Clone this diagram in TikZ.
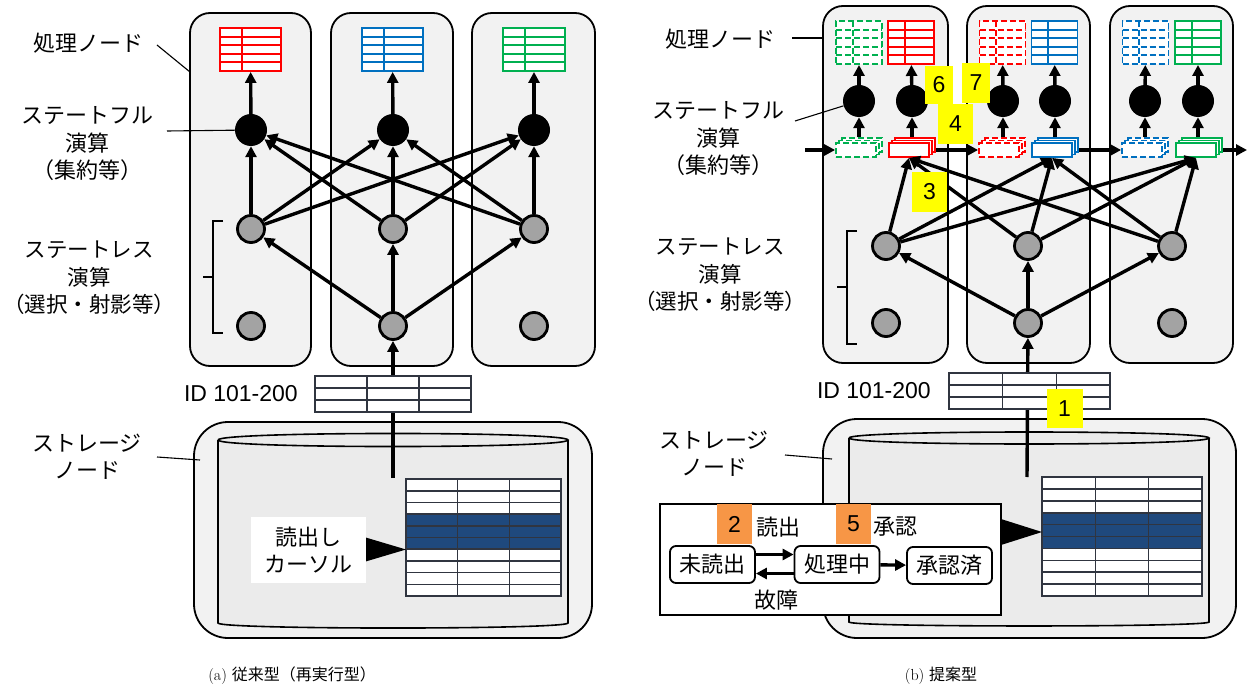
\documentclass[tikz,border=0pt]{standalone}
\usepackage{fontspec}
\newfontfamily\jpf{Noto Sans CJK JP}
\newfontfamily\arf{Liberation Sans}
\usetikzlibrary{arrows.meta,calc}

\definecolor{boxgray}{HTML}{F2F2F2}
\definecolor{tred}{HTML}{FF0000}
\definecolor{tblue}{HTML}{0070C0}
\definecolor{tgreen}{HTML}{00B050}
\definecolor{rowblue}{HTML}{1F497D}
\definecolor{lblyellow}{HTML}{FFFF00}
\definecolor{lblorange}{HTML}{F79646}
\definecolor{cylfill}{HTML}{EBEBEB}
\definecolor{opgray}{HTML}{A3A3A3}
\definecolor{gridgray}{HTML}{303540}

% three stacked copies of a small state buffer; the front one carries the name
\newcommand\stackbox[4]{%
  \node[stk=#3,#4] (#1b) at (#2+6,145) {};
  \node[stk=#3,#4] (#1m) at (#2+3,147.5) {};
  \node[stk=#3,#4] (#1) at (#2,150) {};}

\begin{document}
\begin{tikzpicture}[x=1pt,y=-1pt,
  arr/.style={line width=3.4pt,-{Triangle[length=11pt,width=11pt]}},
  lead/.style={line width=1.1pt},
  dsh/.style={dash pattern=on 6pt off 3pt},
  procbox/.style={draw, line width=1.8pt, fill=boxgray, rounded corners=20pt, inner sep=0pt},
  storebox/.style={draw, line width=1.8pt, fill=boxgray, rounded corners=34pt, inner sep=0pt},
  stful/.style={circle, fill=black, minimum size=32pt, inner sep=0pt},
  stless/.style={circle, draw, line width=2.8pt, fill=opgray, minimum size=27pt, inner sep=0pt},
  stk/.style={draw=#1, line width=1.8pt, fill=white, minimum width=40pt, minimum height=14pt, inner sep=0pt},
  jp/.style={font=\jpf\fontsize{22}{27.5}\selectfont, align=center, inner sep=0pt},
  idlbl/.style={font=\arf\fontsize{23}{23}\selectfont, inner sep=0pt},
  numlbl/.style={fill=#1, font=\arf\fontsize{23}{23}\selectfont, inner sep=0pt},
  statetab/.style 2 args={draw=#1, #2, line width=1.9pt, fill=white, minimum height=43pt, inner sep=0pt,
    path picture={
      \foreach \k in {1,...,4}
        \draw[#1,#2,line width=1.9pt]
          ($(path picture bounding box.north west)!\k/5!(path picture bounding box.south west)$) --
          ($(path picture bounding box.north east)!\k/5!(path picture bounding box.south east)$);
      \draw[#1,#2,line width=1.9pt]
        ($(path picture bounding box.north west)!0.36!(path picture bounding box.north east)$) --
        ($(path picture bounding box.south west)!0.36!(path picture bounding box.south east)$);
    }},
  datatab/.style n args={3}{draw=gridgray, line width=1.6pt, fill=white, inner sep=0pt,
    path picture={
      \fill[rowblue]
        ($(path picture bounding box.north west)!#2/#1!(path picture bounding box.south west)$) rectangle
        ($(path picture bounding box.north east)!#3/#1!(path picture bounding box.south east)$);
      \foreach \k in {1,...,#1}
        \draw[gridgray,line width=1.6pt]
          ($(path picture bounding box.north west)!\k/#1!(path picture bounding box.south west)$) --
          ($(path picture bounding box.north east)!\k/#1!(path picture bounding box.south east)$);
      \foreach \c in {1,2}
        \draw[gridgray,line width=1.6pt]
          ($(path picture bounding box.north west)!\c/3!(path picture bounding box.north east)$) --
          ($(path picture bounding box.south west)!\c/3!(path picture bounding box.south east)$);
    }},
  ]
\useasboundingbox (0,0) rectangle (1248,687);

%% ================= (a) conventional: re-execution =================
% processing nodes
\node[procbox, minimum width=121pt, minimum height=353pt] (pA1) at (250.5,189.5) {};
\node[procbox, minimum width=122pt, minimum height=353pt] (pA2) at (392,189.5) {};
\node[procbox, minimum width=123pt, minimum height=353pt] (pA3) at (533.5,189.5) {};

% storage node
\node[storebox, minimum width=398pt, minimum height=216pt] (stA) at (393,530) {};
\path[fill=cylfill] (218,440) .. controls (218,431.3) and (568,431.3) .. (568,440)
  -- (568,623) .. controls (568,629.7) and (218,629.7) .. (218,623) -- cycle;
\draw[line width=1.6pt] (218,440) .. controls (218,431.3) and (568,431.3) .. (568,440)
  .. controls (568,448.7) and (218,448.7) .. (218,440);
\draw[line width=1.6pt] (218,440) -- (218,623) .. controls (218,629.7) and (568,629.7) .. (568,623) -- (568,440);

% operators
\node[stful] (sA1) at (251,130) {};
\node[stful] (sA2) at (393,130) {};
\node[stful] (sA3) at (534,130) {};
\node[stless] (uA1) at (251,229) {};
\node[stless] (uA2) at (393,229) {};
\node[stless] (uA3) at (534,229) {};
\node[stless] (lA1) at (251,326) {};
\node[stless] (lA2) at (393,326) {};
\node[stless] (lA3) at (534,326) {};

% operator state tables
\node[statetab={tred}{solid}, minimum width=61pt] (tA1) at (250.5,49.5) {};
\node[statetab={tblue}{solid}, minimum width=61pt] (tA2) at (392.5,49.5) {};
\node[statetab={tgreen}{solid}, minimum width=62pt] (tA3) at (534,49.5) {};

% data flow
\coordinate (curA) at (393,478);
\draw[arr] (curA) -- (lA2);
\foreach \j in {1,2,3} \draw[arr] (lA2) -- (uA\j);
\foreach \i in {1,2,3} \foreach \j in {1,2,3} \draw[arr] (uA\i) -- (sA\j);
\foreach \i in {1,2,3} \draw[arr] (sA\i) -- (tA\i);

% records being read
\node[datatab={3}{0}{0}, minimum width=156pt, minimum height=36pt] (idA) at (393,394) {};
\node[idlbl, anchor=east] (idlA) at (298,394) {ID 101-200};
\node[datatab={10}{3}{6}, minimum width=155pt, minimum height=117pt] (dA) at (483.5,537.5) {};
\fill (364,537) -- (406,549.5) -- (364,562) -- cycle;
\node[jp, fill=white, minimum width=115pt, minimum height=66pt] (cursA) at (308.5,550) {読出し\\カーソル};

% bracket for stateless operators
\draw[line width=1.6pt] (223,221) -- (213,221) -- (213,333) -- (223,333);
\draw[line width=1.6pt] (213,277) -- (203,277);

% side labels
\node[jp] (lpA) at (88,43) {処理ノード};
\coordinate (lpA1) at (157,45);
\coordinate (lpA2) at (190,72);
\draw[lead] (lpA1) -- (lpA2);
\node[jp] (lsfA) at (87,144) {ステートフル\\演算\\（集約等）};
\coordinate (lsfA1) at (167,131);
\draw[lead] (lsfA1) -- (sA1);
\node[jp, font=\jpf\fontsize{21.5}{27.5}\selectfont] (lslA) at (89,278) {ステートレス\\演算\\（選択・射影等）};
\node[jp] (lstA) at (87,456.5) {ストレージ\\ノード};
\coordinate (lstA1) at (157,457);
\coordinate (lstA2) at (200,460);
\draw[lead] (lstA1) -- (lstA2);

\node[font=\fontsize{16}{16}\selectfont, inner sep=0pt] (capA) at (292,676) {(a)\ {\jpf 従来型（再実行型）}};

%% ================= (b) proposed =================
\node[procbox, minimum width=125pt, minimum height=357pt] (pB1) at (885.5,184.5) {};
\node[procbox, minimum width=123pt, minimum height=357pt] (pB2) at (1028.5,184.5) {};
\node[procbox, minimum width=123pt, minimum height=357pt] (pB3) at (1171.5,184.5) {};

% storage node
\node[storebox, minimum width=413pt, minimum height=219pt] (stB) at (1029.5,528.5) {};
\path[fill=cylfill] (849,438) .. controls (849,430) and (1209,430) .. (1209,438)
  -- (1209,622) .. controls (1209,627.3) and (849,627.3) .. (849,622) -- cycle;
\draw[line width=1.6pt] (849,438) .. controls (849,430) and (1209,430) .. (1209,438)
  .. controls (1209,446) and (849,446) .. (849,438);
\draw[line width=1.6pt] (849,438) -- (849,622) .. controls (849,627.3) and (1209,627.3) .. (1209,622) -- (1209,438);

% operators
\node[stful] (cB1g) at (859,101) {};
\node[stful] (cB1r) at (912,101) {};
\node[stful] (cB2r) at (1003,101) {};
\node[stful] (cB2b) at (1055,101) {};
\node[stful] (cB3b) at (1145,101) {};
\node[stful] (cB3g) at (1198,101) {};
\node[stless] (uB1) at (886,246) {};
\node[stless] (uB2) at (1028,246) {};
\node[stless] (uB3) at (1172,246) {};
\node[stless] (lB1) at (886,323) {};
\node[stless] (lB2) at (1028,323) {};
\node[stless] (lB3) at (1172,323) {};

% state tables: replica (dashed) and primary (solid)
\node[statetab={tgreen}{dsh}, minimum width=46pt] (tB1g) at (859,42.5) {};
\node[statetab={tred}{solid}, minimum width=46pt] (tB1r) at (911,42.5) {};
\node[statetab={tred}{dsh}, minimum width=46pt] (tB2r) at (1002.5,42.5) {};
\node[statetab={tblue}{solid}, minimum width=46pt] (tB2b) at (1054.5,42.5) {};
\node[statetab={tblue}{dsh}, minimum width=46pt] (tB3b) at (1145.5,42.5) {};
\node[statetab={tgreen}{solid}, minimum width=46pt] (tB3g) at (1198,42.5) {};

% state buffers
\stackbox{gd1}{856}{tgreen}{dsh}
\stackbox{rs1}{909}{tred}{solid}
\stackbox{rd2}{999}{tred}{dsh}
\stackbox{bs2}{1052}{tblue}{solid}
\stackbox{bd3}{1142}{tblue}{dsh}
\stackbox{gs3}{1196}{tgreen}{solid}

% data flow
\coordinate (curB) at (1027,477);
\draw[arr] (curB) -- (lB2);
\foreach \j in {1,2,3} \draw[arr] (lB2) -- (uB\j);
\foreach \i in {1,2,3} \foreach \t in {rs1,bs2,gs3} \draw[arr] (uB\i) -- (\t.south);
\draw[arr] (cB1g |- gd1b.north) -- (cB1g);
\draw[arr] (cB1r |- rs1b.north) -- (cB1r);
\draw[arr] (cB2r |- rd2b.north) -- (cB2r);
\draw[arr] (cB2b |- bs2b.north) -- (cB2b);
\draw[arr] (cB3b |- bd3b.north) -- (cB3b);
\draw[arr] (cB3g |- gs3b.north) -- (cB3g);
\draw[arr] (cB1g) -- (tB1g);
\draw[arr] (cB1r) -- (tB1r);
\draw[arr] (cB2r) -- (tB2r);
\draw[arr] (cB2b) -- (tB2b);
\draw[arr] (cB3b) -- (tB3b);
\draw[arr] (cB3g) -- (tB3g);

% state replication between nodes
\coordinate (repin) at (805,150);
\coordinate (repout) at (1247,150);
\draw[arr] (repin) -- (gd1);
\draw[arr] (rs1b.east |- rs1) -- (rd2);
\draw[arr] (bs2b.east |- bs2) -- (bd3);
\draw[arr] (gs3b.east |- gs3) -- (repout);

% records being read
\node[datatab={3}{0}{0}, minimum width=161pt, minimum height=36pt] (idB) at (1029.5,391) {};
\node[idlbl, anchor=east] (idlB) at (931,391) {ID 101-200};
\node[datatab={10}{3}{6}, minimum width=160pt, minimum height=119pt] (dB) at (1122,536.5) {};

% record state machine
\node[draw, fill=white, line width=1.8pt, minimum width=341pt, minimum height=111pt, inner sep=0pt] (sdB) at (830.5,559.5) {};
\fill (1001,519) -- (1042,532) -- (1001,545) -- cycle;
\tikzset{st/.style={draw, rounded corners=6pt, line width=1.8pt, fill=white, minimum width=85pt, minimum height=37pt, inner sep=0pt, jp}}
\node[st] (unread) at (712.5,564.5) {未読出};
\node[st] (inproc) at (837,564.5) {処理中};
\node[st] (acked) at (949.5,565.5) {承認済};
\draw[arr] ([yshift=10pt]unread.east) -- ([yshift=10pt]inproc.west);
\draw[arr] ([yshift=-9pt]inproc.west) -- ([yshift=-9pt]unread.east);
\draw[arr] (inproc) -- (acked);
\node[numlbl=lblorange, minimum width=35pt, minimum height=40pt] (n2) at (734.5,524) {2};
\node[jp] (trRead) at (778,527) {読出};
\node[numlbl=lblorange, minimum width=35pt, minimum height=40pt] (n5) at (853.5,524) {5};
\node[jp] (trAck) at (895,527) {承認};
\node[jp] (trFail) at (776,600) {故障};

% bracket for stateless operators
\draw[line width=1.6pt] (857,231) -- (847,231) -- (847,344) -- (857,344);
\draw[line width=1.6pt] (847,287) -- (837,287);

% step numbers
\node[numlbl=lblyellow, minimum width=36pt, minimum height=39pt] (n1) at (1064.5,408.5) {1};
\node[numlbl=lblyellow, minimum width=35pt, minimum height=40pt] (n3) at (929.5,192) {3};
\node[numlbl=lblyellow, minimum width=35pt, minimum height=40pt] (n4) at (955.5,124) {4};
\node[numlbl=lblyellow, minimum width=28pt, minimum height=38pt] (n6) at (939,85) {6};
\node[numlbl=lblyellow, minimum width=28pt, minimum height=40pt] (n7) at (976,83) {7};

% side labels
\node[jp] (lpB) at (720,39) {処理ノード};
\coordinate (lpB1) at (792,38);
\draw[lead] (lpB1) -- (pB1.west |- lpB1);
\node[jp] (lsfB) at (718,139) {ステートフル\\演算\\（集約等）};
\coordinate (lsfB1) at (795,121);
\draw[lead] (lsfB1) -- (cB1g);
\node[jp, font=\jpf\fontsize{21.5}{27.5}\selectfont] (lslB) at (720,275) {ステートレス\\演算\\（選択・射影等）};
\node[jp] (lstB) at (714,453.5) {ストレージ\\ノード};
\coordinate (lstB1) at (785,455);
\coordinate (lstB2) at (832,459);
\draw[lead] (lstB1) -- (lstB2);

\node[font=\fontsize{16}{16}\selectfont, inner sep=0pt] (capB) at (941,676) {(b)\ {\jpf 提案型}};
\end{tikzpicture}
\end{document}
